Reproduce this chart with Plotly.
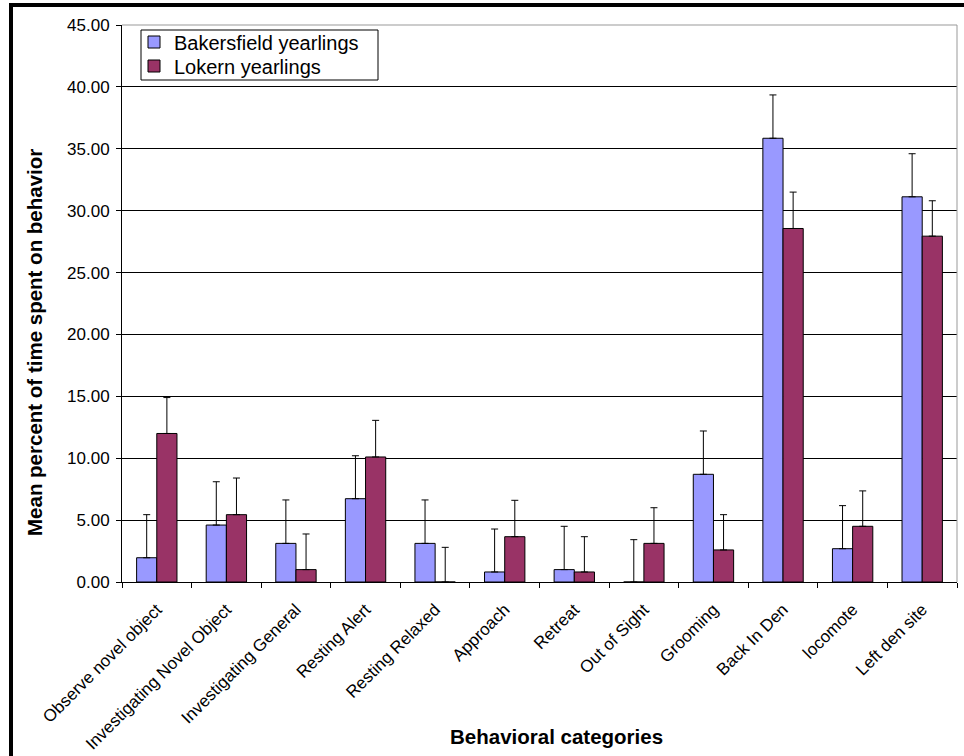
import plotly.graph_objects as go

categories = ["Observe novel object", "Investigating Novel Object", "Investigating General",
              "Resting Alert", "Resting Relaxed", "Approach", "Retreat", "Out of Sight",
              "Grooming", "Back In Den", "locomote", "Left den site"]
bakersfield = [1.96, 4.60, 3.12, 6.73, 3.12, 0.81, 1.00, 0.00, 8.70, 35.85, 2.69, 31.12]
bakersfield_err = [3.48, 3.50, 3.51, 3.47, 3.51, 3.47, 3.50, 3.42, 3.50, 3.50, 3.48, 3.48]
lokern = [12.00, 5.44, 1.00, 10.10, 0.00, 3.66, 0.81, 3.12, 2.59, 28.56, 4.50, 27.94]
lokern_err = [2.90, 2.96, 2.88, 2.96, 2.80, 2.94, 2.85, 2.88, 2.85, 2.94, 2.86, 2.86]
y_ticks = [0, 5, 10, 15, 20, 25, 30, 35, 40, 45]

W, H = 964, 756
L, R, T, B = 122, 7, 25, 174
pw, ph = W - L - R, H - T - B

def px(x):
    return (x - L) / pw

def py(y):
    return (H - B - y) / ph

font = "Liberation Sans, Arial, sans-serif"

fig = go.Figure()
fig.add_trace(go.Bar(
    name="Bakersfield yearlings", x=categories, y=bakersfield, legend="legend", showlegend=True,
    marker=dict(color="#9999FF", line=dict(color="#000000", width=1)),
    error_y=dict(type="data", array=bakersfield_err, symmetric=False,
                 arrayminus=[0] * len(categories), color="#000000", thickness=1, width=3.5),
))
fig.add_trace(go.Bar(
    name="Lokern yearlings", x=categories, y=lokern, legend="legend2", showlegend=True,
    marker=dict(color="#993366", line=dict(color="#000000", width=1)),
    error_y=dict(type="data", array=lokern_err, symmetric=False,
                 arrayminus=[0] * len(categories), color="#000000", thickness=1, width=3.5),
))

legend_common = dict(xanchor="left", yanchor="middle", bgcolor="rgba(0,0,0,0)",
                     borderwidth=0, font=dict(size=20, family=font), itemwidth=30,
                     visible=True)

fig.update_layout(
    width=W, height=H, showlegend=True,
    margin=dict(l=L, r=R, t=T, b=B, autoexpand=False),
    paper_bgcolor="white", plot_bgcolor="white",
    barmode="group", bargap=0.42, bargroupgap=0,
    font=dict(family=font, color="#000000"),
    legend=dict(x=px(134), y=py(42), **legend_common),
    legend2=dict(x=px(134), y=py(66), **legend_common),
    xaxis=dict(showline=True, linecolor="#000000", linewidth=1,
               ticks="outside", ticklen=5, tickcolor="#000000", tickson="boundaries",
               tickangle=-45, tickfont=dict(size=17, family=font), showgrid=False,
               ticklabelstandoff=10, automargin=False),
    yaxis=dict(range=[0, 45], tickvals=y_ticks, tickformat=".2f",
               showline=True, linecolor="#000000", linewidth=1,
               ticks="outside", ticklen=5, tickcolor="#000000",
               showgrid=True, gridcolor="#000000", gridwidth=1,
               tickfont=dict(size=17, family=font), zeroline=False,
               ticklabelstandoff=3, automargin=False),
    annotations=[
        dict(text="<b>Behavioral categories</b>", x=px(556), y=py(736), xref="paper", yref="paper",
             showarrow=False, xanchor="center", yanchor="middle", font=dict(size=20.5, family=font)),
        dict(text="<b>Mean percent of time spent on behavior</b>", x=px(35), y=py(343),
             xref="paper", yref="paper", showarrow=False, textangle=-90,
             xanchor="center", yanchor="middle", font=dict(size=20.5, family=font)),
    ],
    shapes=[
        dict(type="line", xref="paper", yref="paper", x0=0, x1=1, y0=1, y1=1,
             line=dict(color="#999999", width=1), layer="above"),
        dict(type="line", xref="paper", yref="paper", x0=1, x1=1, y0=0, y1=1,
             line=dict(color="#999999", width=1), layer="above"),
        dict(type="rect", xref="paper", yref="paper", x0=px(141), x1=px(378), y0=py(30), y1=py(80),
             line=dict(color="#000000", width=1), fillcolor="rgba(0,0,0,0)", layer="below"),
        dict(type="line", xref="paper", yref="paper", x0=px(9), x1=px(966), y0=py(5), y1=py(5),
             line=dict(color="#000000", width=4)),
        dict(type="line", xref="paper", yref="paper", x0=px(11), x1=px(11), y0=py(3), y1=py(760),
             line=dict(color="#000000", width=4)),
    ],
)

fig.write_html("out.html", config={"displayModeBar": False},
               post_script="document.body.style.margin='0';document.body.style.padding='0';")
